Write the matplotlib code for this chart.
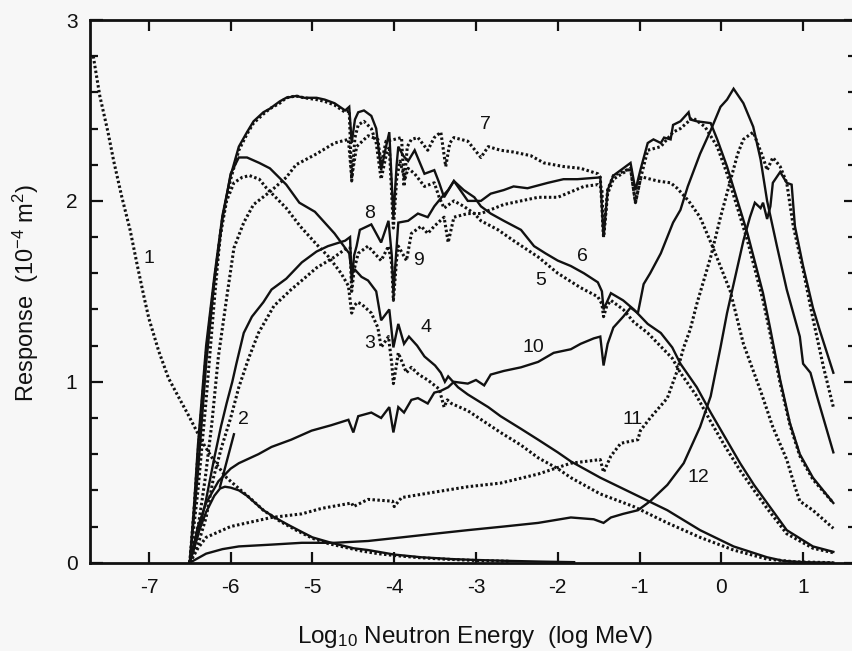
import matplotlib
matplotlib.use("Agg")
import matplotlib.pyplot as plt
from matplotlib.ticker import MultipleLocator

plt.rcParams['font.family'] = ['Liberation Sans', 'DejaVu Sans']
plt.rcParams['mathtext.fontset'] = 'custom'
plt.rcParams['mathtext.rm'] = 'Liberation Sans'
plt.rcParams['mathtext.default'] = 'regular'
plt.rcParams['axes.unicode_minus'] = False

# curve data: log10 energy (MeV) and response (1e-4 m2), odd = dotted, even = solid
e1 = [-7.68, -7.6, -7.5, -7.43, -7.33, -7.23, -7.14, -7.06, -7.0, -6.88, -6.76, -6.63, -6.51, -6.35, -6.2,
      -6.05, -5.9, -5.77, -5.6, -5.4, -5.2, -5.0, -4.8, -4.6, -4.4, -4.2, -4.0, -3.7, -3.4, -3.0, -2.6]
r1 = [2.8, 2.58, 2.38, 2.22, 2.02, 1.84, 1.64, 1.47, 1.35, 1.17, 1.02, 0.91, 0.81, 0.67, 0.56,
      0.47, 0.41, 0.36, 0.29, 0.23, 0.18, 0.135, 0.105, 0.085, 0.065, 0.05, 0.04, 0.028, 0.02, 0.012, 0.008]

e2 = [-6.5, -6.45, -6.4, -6.3, -6.2, -6.13, -6.07, -6.0, -5.9, -5.8, -5.7, -5.6, -5.46, -5.3, -5.13,
      -5.0, -4.77, -4.5, -4.32, -4.0, -3.67, -3.3, -3.0, -2.6, -2.2, -1.8]
r2 = [0.0, 0.08, 0.16, 0.28, 0.37, 0.41, 0.42, 0.415, 0.4, 0.37, 0.33, 0.29, 0.25, 0.21, 0.17,
      0.14, 0.11, 0.08, 0.07, 0.045, 0.03, 0.02, 0.015, 0.01, 0.006, 0.003]

e3 = [-6.5, -6.45, -6.4, -6.3, -6.2, -6.13, -6.05, -5.96, -5.86, -5.77, -5.65, -5.56, -5.45, -5.32, -5.15,
      -4.95, -4.8, -4.65, -4.56, -4.52, -4.49, -4.45, -4.4, -4.28, -4.2, -4.16, -4.07, -4.03, -4.01, -3.97,
      -3.95, -3.85, -3.79, -3.7, -3.59, -3.45, -3.39, -3.35, -3.3, -3.1, -2.9, -2.7, -2.45, -2.24, -2.0,
      -1.84, -1.48, -1.07, -0.66, -0.26, 0.15, 0.56, 0.9, 1.37]
r3 = [0.0, 0.2, 0.4, 0.9, 1.45, 1.8, 2.0, 2.1, 2.13, 2.14, 2.12, 2.07, 2.02, 1.96, 1.86,
      1.76, 1.69, 1.6, 1.53, 1.38, 1.42, 1.44, 1.43, 1.38, 1.3, 1.19, 1.25, 1.1, 0.99, 1.1,
      1.16, 1.05, 1.08, 1.04, 1.01, 0.96, 0.86, 0.9, 0.88, 0.84, 0.78, 0.72, 0.65, 0.58, 0.52,
      0.47, 0.38, 0.31, 0.22, 0.14, 0.07, 0.02, 0.005, 0.0]

e4 = [-6.5, -6.45, -6.4, -6.3, -6.2, -6.1, -6.0, -5.9, -5.8, -5.65, -5.52, -5.32, -5.16, -4.97, -4.85,
      -4.73, -4.6, -4.55, -4.52, -4.48, -4.4, -4.32, -4.22, -4.16, -4.06, -4.01, -3.95, -3.88, -3.82, -3.72,
      -3.63, -3.5, -3.43, -3.38, -3.34, -3.22, -3.1, -2.85, -2.7, -2.45, -2.24, -2.0, -1.84, -1.48, -1.07,
      -0.66, -0.26, 0.15, 0.56, 0.76, 1.0, 1.37]
r4 = [0.0, 0.25, 0.5, 1.1, 1.55, 1.9, 2.15, 2.24, 2.24, 2.21, 2.18, 2.09, 1.99, 1.94, 1.88,
      1.82, 1.74, 1.71, 1.6, 1.62, 1.58, 1.56, 1.5, 1.34, 1.4, 1.19, 1.32, 1.21, 1.25, 1.2,
      1.14, 1.09, 1.05, 1.0, 1.03, 0.97, 0.93, 0.86, 0.81, 0.74, 0.68, 0.61, 0.56, 0.47, 0.38,
      0.29, 0.18, 0.09, 0.03, 0.01, 0.003, 0.0]

e5 = [-6.5, -6.45, -6.4, -6.3, -6.2, -6.1, -6.0, -5.9, -5.8, -5.72, -5.6, -5.52, -5.4, -5.32, -5.2,
      -5.1, -4.95, -4.85, -4.73, -4.6, -4.55, -4.52, -4.48, -4.44, -4.37, -4.28, -4.22, -4.16, -4.1, -4.06,
      -4.01, -3.97, -3.93, -3.87, -3.83, -3.75, -3.63, -3.51, -3.45, -3.39, -3.27, -3.15, -3.02, -2.94, -2.73,
      -2.54, -2.24, -2.0, -1.72, -1.51, -1.46, -1.44, -1.4, -1.35, -1.2, -1.07, -0.9, -0.6, -0.5, -0.3,
      -0.13, 0.05, 0.23, 0.4, 0.56, 0.8, 1.12, 1.37]
r5 = [0.0, 0.28, 0.6, 1.15, 1.55, 1.9, 2.12, 2.28, 2.37, 2.43, 2.48, 2.51, 2.54, 2.57, 2.58,
      2.57, 2.56, 2.55, 2.53, 2.49, 2.5, 2.11, 2.35, 2.42, 2.44, 2.4, 2.32, 2.12, 2.25, 2.3,
      1.85, 2.12, 2.22, 2.12, 2.18, 2.15, 2.08, 2.1, 2.02, 1.96, 2.0, 1.97, 1.93, 1.89, 1.84,
      1.78, 1.69, 1.6, 1.52, 1.47, 1.43, 1.36, 1.42, 1.45, 1.4, 1.33, 1.27, 1.13, 1.05, 0.92,
      0.78, 0.64, 0.51, 0.4, 0.3, 0.16, 0.08, 0.055]

e6 = [-6.5, -6.45, -6.4, -6.3, -6.2, -6.1, -6.0, -5.9, -5.8, -5.72, -5.6, -5.52, -5.4, -5.32, -5.2,
      -5.1, -4.95, -4.85, -4.73, -4.6, -4.55, -4.52, -4.48, -4.44, -4.37, -4.28, -4.22, -4.16, -4.1, -4.06,
      -4.01, -3.97, -3.95, -3.89, -3.83, -3.75, -3.63, -3.51, -3.45, -3.39, -3.27, -3.15, -3.02, -2.94, -2.82,
      -2.66, -2.45, -2.29, -2.15, -2.0, -1.84, -1.68, -1.51, -1.46, -1.44, -1.4, -1.35, -1.2, -1.07, -0.9,
      -0.74, -0.6, -0.5, -0.3, -0.13, 0.05, 0.23, 0.4, 0.56, 0.8, 1.12, 1.37]
r6 = [0.0, 0.3, 0.65, 1.2, 1.58, 1.92, 2.14, 2.3, 2.38, 2.44, 2.49, 2.51, 2.55, 2.57, 2.58,
      2.57, 2.57, 2.56, 2.54, 2.5, 2.52, 2.32, 2.45, 2.49, 2.5, 2.47, 2.4, 2.17, 2.3, 2.38,
      1.91, 2.2, 2.3, 2.25, 2.22, 2.28, 2.15, 2.17, 2.1, 2.02, 2.11, 2.06, 2.02, 1.97, 1.93,
      1.89, 1.84, 1.75, 1.71, 1.67, 1.64, 1.6, 1.55, 1.5, 1.4, 1.44, 1.49, 1.45, 1.4, 1.32,
      1.27, 1.19, 1.1, 0.97, 0.83, 0.69, 0.55, 0.43, 0.33, 0.18, 0.09, 0.06]

e7 = [-6.5, -6.45, -6.39, -6.31, -6.23, -6.15, -6.05, -5.96, -5.84, -5.72, -5.52, -5.32, -5.2, -4.95, -4.73,
      -4.56, -4.52, -4.46, -4.32, -4.2, -4.16, -4.1, -4.0, -3.91, -3.88, -3.84, -3.79, -3.71, -3.59, -3.51,
      -3.43, -3.37, -3.32, -3.27, -3.1, -2.94, -2.85, -2.7, -2.54, -2.33, -2.17, -1.93, -1.72, -1.51, -1.48,
      -1.44, -1.39, -1.32, -1.11, -1.05, -0.99, -0.95, -0.78, -0.62, -0.54, -0.4, -0.26, -0.1, 0.11, 0.27,
      0.48, 0.63, 0.8, 0.9, 0.96, 1.12, 1.37]
r7 = [0.0, 0.1, 0.22, 0.47, 0.77, 1.14, 1.46, 1.74, 1.88, 1.98, 2.05, 2.13, 2.2, 2.26, 2.32,
      2.34, 2.13, 2.3, 2.36, 2.34, 2.2, 2.33, 2.34, 2.35, 2.08, 2.3, 2.34, 2.35, 2.28, 2.35,
      2.38, 2.19, 2.32, 2.35, 2.33, 2.24, 2.3, 2.28, 2.27, 2.25, 2.21, 2.19, 2.18, 2.15, 2.13,
      1.8, 2.06, 2.14, 2.18, 1.99, 2.12, 2.13, 2.11, 2.1, 2.07, 2.0, 1.91, 1.74, 1.5, 1.21,
      0.95, 0.75, 0.57, 0.42, 0.34, 0.29, 0.19]

e8 = [-6.5, -6.4, -6.3, -6.2, -6.12, -6.05, -5.98, -5.93, -5.84, -5.74, -5.6, -5.5, -5.32, -5.13, -4.95,
      -4.81, -4.6, -4.54, -4.52, -4.49, -4.46, -4.42, -4.28, -4.16, -4.07, -4.03, -4.01, -3.97, -3.95, -3.83,
      -3.71, -3.59, -3.51, -3.42, -3.34, -3.27, -3.1, -2.94, -2.82, -2.66, -2.54, -2.37, -2.12, -1.93, -1.76,
      -1.48, -1.44, -1.39, -1.32, -1.23, -1.11, -1.05, -0.99, -0.9, -0.83, -0.74, -0.7, -0.62, -0.59, -0.5,
      -0.4, -0.38, -0.3, -0.13, -0.05, 0.07, 0.32, 0.51, 0.6, 0.72, 0.84, 0.96, 1.12, 1.37]
r8 = [0.0, 0.15, 0.35, 0.58, 0.75, 0.88, 1.0, 1.1, 1.27, 1.36, 1.44, 1.51, 1.57, 1.66, 1.72,
      1.75, 1.78, 1.8, 1.55, 1.7, 1.75, 1.84, 1.87, 1.77, 1.89, 1.7, 1.49, 1.75, 1.88, 1.89,
      1.93, 1.91, 1.97, 2.02, 2.06, 2.11, 2.0, 2.0, 2.04, 2.06, 2.08, 2.07, 2.1, 2.12, 2.12,
      2.13, 1.8, 2.06, 2.14, 2.17, 2.21, 2.06, 2.17, 2.32, 2.34, 2.32, 2.35, 2.34, 2.42, 2.44,
      2.49, 2.45, 2.44, 2.43, 2.34, 2.19, 1.82, 1.49, 1.29, 1.01, 0.77, 0.6, 0.47, 0.33]

e9 = [-6.5, -6.4, -6.3, -6.21, -6.11, -6.0, -5.9, -5.78, -5.66, -5.47, -5.26, -5.13, -4.95, -4.73, -4.61,
      -4.54, -4.52, -4.49, -4.44, -4.32, -4.16, -4.07, -4.03, -4.01, -3.97, -3.95, -3.85, -3.79, -3.67, -3.59,
      -3.51, -3.39, -3.34, -3.27, -3.1, -2.94, -2.66, -2.45, -2.24, -2.0, -1.84, -1.68, -1.51, -1.46, -1.44,
      -1.39, -1.32, -1.11, -1.05, -0.99, -0.9, -0.74, -0.59, -0.5, -0.35, -0.2, -0.05, 0.07, 0.32, 0.51,
      0.6, 0.72, 0.84, 0.96, 1.12, 1.37]
r9 = [0.0, 0.1, 0.25, 0.47, 0.64, 0.8, 0.97, 1.13, 1.27, 1.42, 1.51, 1.56, 1.63, 1.69, 1.73,
      1.74, 1.5, 1.62, 1.71, 1.75, 1.67, 1.75, 1.65, 1.45, 1.68, 1.75, 1.67, 1.82, 1.86, 1.82,
      1.86, 1.91, 1.77, 1.91, 1.93, 1.93, 1.98, 2.0, 2.02, 2.02, 2.05, 2.08, 2.09, 2.07, 1.8,
      2.04, 2.12, 2.18, 1.99, 2.12, 2.28, 2.3, 2.38, 2.4, 2.46, 2.41, 2.3, 2.15, 1.78, 1.45,
      1.26, 0.99, 0.76, 0.59, 0.46, 0.33]

e10 = [-6.5, -6.4, -6.3, -6.15, -6.0, -5.9, -5.66, -5.5, -5.26, -5.01, -4.77, -4.56, -4.5, -4.44, -4.28,
       -4.16, -4.06, -4.01, -3.95, -3.88, -3.79, -3.71, -3.59, -3.51, -3.43, -3.34, -3.27, -3.1, -3.0, -2.9,
       -2.82, -2.66, -2.45, -2.24, -2.05, -1.84, -1.72, -1.56, -1.48, -1.44, -1.39, -1.32, -1.2, -1.11, -1.02,
       -0.95, -0.87, -0.74, -0.59, -0.5, -0.41, -0.26, -0.13, -0.01, 0.07, 0.15, 0.27, 0.39, 0.48, 0.56,
       0.68, 0.8, 0.96, 1.0, 1.09, 1.17, 1.37]
r10 = [0.0, 0.2, 0.33, 0.45, 0.52, 0.55, 0.6, 0.64, 0.68, 0.73, 0.76, 0.79, 0.72, 0.81, 0.83,
       0.8, 0.86, 0.72, 0.86, 0.83, 0.9, 0.91, 0.88, 0.94, 0.95, 0.97, 1.0, 0.99, 1.01, 0.98,
       1.04, 1.06, 1.08, 1.11, 1.16, 1.18, 1.21, 1.24, 1.25, 1.09, 1.21, 1.3, 1.36, 1.41, 1.38,
       1.54, 1.6, 1.71, 1.88, 1.95, 2.08, 2.26, 2.39, 2.52, 2.56, 2.62, 2.54, 2.41, 2.23, 2.0,
       1.75, 1.51, 1.25, 1.1, 1.05, 0.92, 0.61]

e11 = [-6.5, -6.4, -6.3, -6.0, -5.5, -5.13, -4.89, -4.52, -4.5, -4.32, -4.02, -4.0, -3.91, -3.51, -3.1,
       -2.7, -2.24, -1.84, -1.48, -1.44, -1.35, -1.23, -1.02, -0.99, -0.87, -0.66, -0.54, -0.46, -0.38, -0.3,
       -0.13, -0.01, 0.11, 0.2, 0.27, 0.39, 0.51, 0.56, 0.63, 0.72, 0.8, 0.88, 1.0, 1.12, 1.25, 1.37]
r11 = [0.0, 0.08, 0.14, 0.2, 0.25, 0.27, 0.3, 0.33, 0.31, 0.35, 0.34, 0.31, 0.36, 0.39, 0.42,
       0.44, 0.49, 0.55, 0.57, 0.5, 0.59, 0.66, 0.68, 0.73, 0.8, 0.91, 1.06, 1.19, 1.29, 1.43,
       1.69, 1.91, 2.11, 2.26, 2.34, 2.38, 2.24, 2.17, 2.24, 2.19, 2.1, 1.86, 1.62, 1.35, 1.08, 0.86]

e12 = [-6.5, -6.3, -6.1, -5.9, -5.5, -5.13, -4.73, -4.32, -3.91, -3.51, -3.1, -2.66, -2.24, -1.84, -1.56,
       -1.44, -1.35, -1.2, -1.02, -0.87, -0.66, -0.46, -0.26, -0.13, -0.01, 0.07, 0.2, 0.27, 0.35, 0.41,
       0.48, 0.51, 0.56, 0.6, 0.63, 0.72, 0.8, 0.86, 0.9, 1.0, 1.12, 1.2, 1.37]
r12 = [0.0, 0.05, 0.075, 0.09, 0.1, 0.11, 0.11, 0.12, 0.14, 0.16, 0.18, 0.2, 0.22, 0.25, 0.24,
       0.22, 0.25, 0.27, 0.29, 0.34, 0.43, 0.55, 0.75, 0.92, 1.19, 1.38, 1.64, 1.78, 1.91, 1.99,
       1.96, 1.99, 1.9, 1.97, 2.1, 2.16, 2.1, 2.09, 1.86, 1.64, 1.41, 1.29, 1.05]

curves = [(e1, r1), (e2, r2), (e3, r3), (e4, r4), (e5, r5), (e6, r6),
          (e7, r7), (e8, r8), (e9, r9), (e10, r10), (e11, r11), (e12, r12)]

# label text and where it sits (data coords)
label_text = ['1', '2', '3', '4', '5', '6', '7', '8', '9', '10', '11', '12']
label_x = [-7.0, -5.84, -4.3, -3.61, -2.21, -1.7, -2.88, -4.3, -3.7, -2.3, -1.09, -0.28]
label_y = [1.68, 0.79, 1.21, 1.30, 1.56, 1.69, 2.42, 1.93, 1.67, 1.19, 0.79, 0.47]

ink = '#111111'
bg = '#f7f7f7'
fig = plt.figure(figsize=(8.53, 6.51), dpi=100, facecolor=bg)
ax = fig.add_axes([90 / 853, (651 - 562.7) / 651, (856 - 90) / 853, (562.7 - 20) / 651])
ax.set_facecolor(bg)

for i, (x, y) in enumerate(curves):
    if i % 2 == 0:
        ax.plot(x, y, color=ink, lw=2.2, linestyle=(0, (0.8, 0.8)), dash_capstyle='butt')
    else:
        ax.plot(x, y, color=ink, lw=1.7, solid_joinstyle='miter')

for t, lx, ly in zip(label_text, label_x, label_y):
    ax.text(lx, ly, t, fontsize=14, ha='center', va='center', color=ink)

# leader line for curve 2
ax.plot([-5.96, -6.13], [0.71, 0.42], color=ink, lw=1.7)

ax.set_xlim(-7.72, 1.647)
ax.set_ylim(0, 3)
ax.xaxis.set_major_locator(MultipleLocator(1))
ax.yaxis.set_major_locator(MultipleLocator(1))
ax.yaxis.set_minor_locator(MultipleLocator(0.2))

ax.tick_params(axis='both', which='both', direction='in', top=True, right=True, width=1.6, colors=ink)
ax.tick_params(axis='x', which='major', length=8, pad=11, labelsize=15)
ax.tick_params(axis='y', which='major', length=9, pad=9, labelsize=15)
ax.tick_params(axis='y', which='minor', length=5.5)
for s in ax.spines.values():
    s.set_linewidth(2.0)
    s.set_color(ink)

ax.set_xlabel('Log$_{10}$ Neutron Energy  (log MeV)', fontsize=17.5, color=ink)
ax.set_ylabel('Response  (10$^{-4}$ m$^2$)', fontsize=17, color=ink)
ax.yaxis.set_label_coords(-0.064, 0.497)
ax.xaxis.set_label_coords(0.502, -0.113)

fig.savefig('out.png', dpi=100, facecolor=bg)
